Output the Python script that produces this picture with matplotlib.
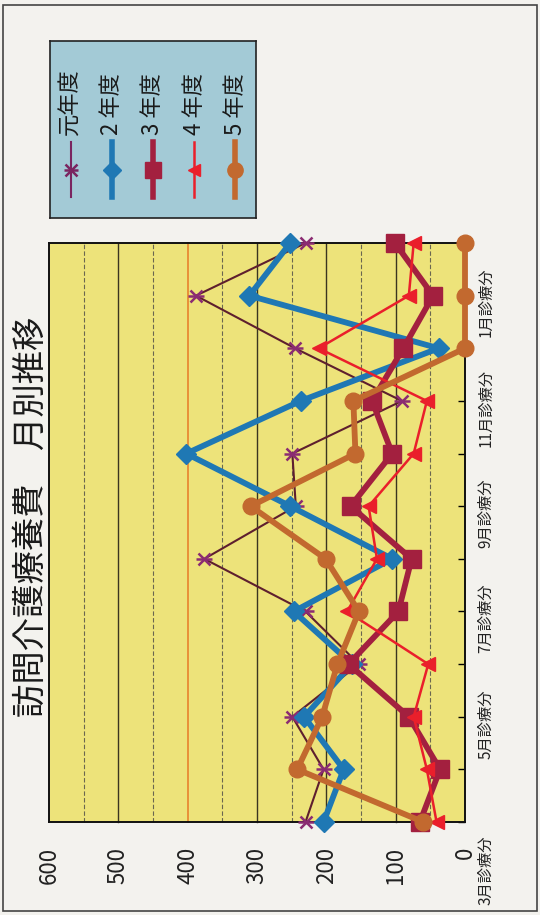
import numpy as np
import matplotlib
matplotlib.use("Agg")
import matplotlib.pyplot as plt
from matplotlib.patches import Rectangle
from matplotlib.lines import Line2D
from matplotlib.transforms import ScaledTranslation

plt.rcParams['font.family'] = ['Noto Sans CJK JP', 'DejaVu Sans']

# data (rotated chart: value axis horizontal, months vertical)
months = ['3月診療分', '4月診療分', '5月診療分', '6月診療分', '7月診療分', '8月診療分',
          '9月診療分', '10月診療分', '11月診療分', '12月診療分', '1月診療分', '2月診療分']
gannen = [230, 204, 249, 153, 230, 376, 244, 249, 91, 245, 388, 230]
nen2 = [204, 175, 232, 163, 247, 105, 252, 402, 237, 38, 311, 252]
nen3 = [65, 36, 81, 168, 96, 77, 165, 105, 134, 89, 46, 101]
nen4 = [41, 55, 74, 53, 170, 127, 139, 74, 55, 211, 81, 74]
nen5 = [60, 242, 206, 184, 153, 201, 309, 158, 161, 0, 0, 0]
value_ticks = [0, 100, 200, 300, 400, 500, 600]
series_names = ['元年度', '2 年度', '3 年度', '4 年度', '5 年度']

title = '訪問介護療養費　月別推移'

fig = plt.figure(figsize=(5.4, 9.15), dpi=100, facecolor='#f3f2ee')
fig.patches.append(Rectangle((0.006, 0.004), 0.988, 0.99, transform=fig.transFigure,
                             fill=False, edgecolor='#444444', linewidth=1.2))

ax = fig.add_axes([0.0907, 0.1016, 0.7704, 0.6328])
ax.set_facecolor('#ede37a')
ax.set_xlim(600, 0)
ax.set_ylim(0, len(months) - 1)

# grid
for v in range(50, 600, 50):
    if v == 400:
        ax.axvline(v, color='#e8822e', lw=1.2, zorder=1)
    elif v % 100 == 0:
        ax.axvline(v, color='#3a3520', lw=1.0, zorder=1)
    else:
        ax.axvline(v, color='#6b6750', lw=0.8, ls=(0, (4, 2)), zorder=1)

y = np.arange(len(months))
ax.plot(gannen, y, color='#5e1f2e', lw=1.5, zorder=3)
ax.plot(gannen, y, ls='none', marker='x', ms=9, mew=1.8, color='#8b2c72', zorder=3)
ax.plot(gannen, y, ls='none', marker='_', ms=11, mew=1.8, color='#8b2c72', zorder=3)
ax.plot(nen2, y, color='#1f78b4', lw=4.2, marker='D', ms=10, zorder=4)
ax.plot(nen3, y, color='#a3203f', lw=4.2, marker='s', ms=13, zorder=5)
ax.plot(nen4, y, color='#ea1f2b', lw=1.8, marker='<', ms=10, zorder=6)
ax.plot(nen5, y, color='#c2692f', lw=4.2, marker='o', ms=12, zorder=7)
for ln in ax.lines:
    ln.set_clip_on(False)

ax.set_xticks(value_ticks)
ax.set_xticklabels([str(v) for v in value_ticks], rotation=90, fontsize=16,
                   fontstyle='italic', color='#222222')
ax.tick_params(axis='x', length=0, pad=18)

ax.yaxis.tick_right()
ax.set_yticks(y)
ax.set_yticklabels([m if i % 2 == 0 else '' for i, m in enumerate(months)],
                   rotation=90, fontsize=11, color='#222222', va='center')
ax.tick_params(axis='y', direction='in', length=5, pad=9, width=1)
for i, lab in enumerate(ax.get_yticklabels()):
    dy = -48 if i == 0 else -7
    lab.set_transform(lab.get_transform() + ScaledTranslation(0, dy / 100, fig.dpi_scale_trans))

for s in ax.spines.values():
    s.set_color('#111111')
    s.set_linewidth(1.4)

fig.text(0.058, 0.435, title, rotation=90, ha='center', va='center', fontsize=24,
         color='#1a1a1a')

# legend (drawn rotated, as in the reference)
lg = fig.add_axes([0.0925, 0.7617, 0.3815, 0.1935])
lg.set_facecolor('#a3cad6')
lg.set_xlim(0, 1)
lg.set_ylim(0, 1)
lg.set_xticks([])
lg.set_yticks([])
for s in lg.spines.values():
    s.set_color('#222222')
    s.set_linewidth(1.2)
styles = [
    dict(color='#7a2560', lw=1.5, marker='x', ms=8, mew=1.8),
    dict(color='#1f78b4', lw=4, marker='D', ms=9),
    dict(color='#a3203f', lw=4, marker='s', ms=12),
    dict(color='#ea1f2b', lw=1.8, marker='<', ms=9),
    dict(color='#c2692f', lw=4, marker='o', ms=11),
]
for i, (name, st) in enumerate(zip(series_names, styles)):
    xc = 0.1 + i * 0.2
    lg.add_line(Line2D([xc, xc], [0.12, 0.43], color=st['color'], lw=st['lw']))
    lg.plot([xc], [0.27], ls='none', color=st['color'], marker=st['marker'], ms=st['ms'],
            mew=st.get('mew', 1))
    if i == 0:
        lg.plot([xc], [0.27], ls='none', color=st['color'], marker='_', ms=10, mew=1.8)
    lg.text(xc, 0.47, name, rotation=90, ha='center', va='bottom', fontsize=16,
            color='#1a1a1a')

fig.savefig('out.png', dpi=100, facecolor=fig.get_facecolor())
